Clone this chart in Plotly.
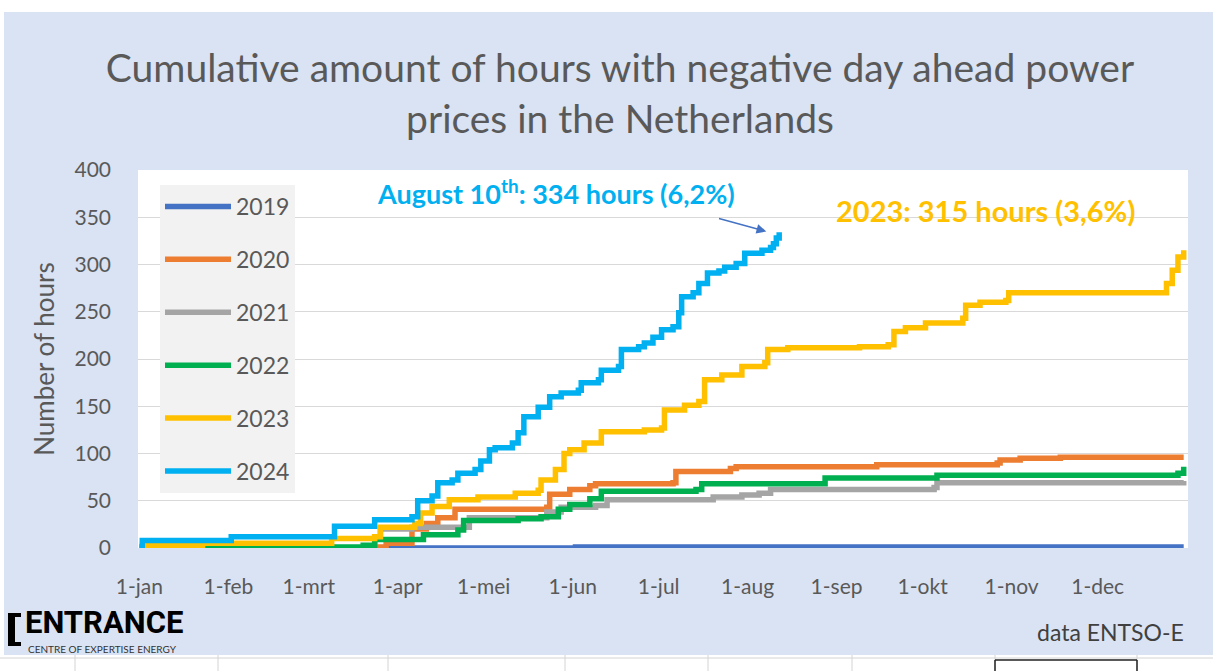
import plotly.graph_objects as go

# ---------------- data (day of year, cumulative hours) ----------------
month_ticks = [0, 31, 59, 90, 120, 151, 181, 212, 243, 273, 304, 334]
month_labels = ["1-jan", "1-feb", "1-mrt", "1-apr", "1-mei", "1-jun",
                "1-jul", "1-aug", "1-sep", "1-okt", "1-nov", "1-dec"]

days_2019 = [0, 152, 364]
vals_2019 = [0, 1, 1]

days_2020 = [0, 79, 86, 95, 100, 104, 110, 142, 143, 150, 157, 159, 186, 187, 206, 208, 257, 299, 300, 307, 321, 364]
vals_2020 = [0, 1, 5, 20, 26, 32, 41, 43, 57, 62, 66, 68, 69, 81, 84, 86, 88, 90, 93, 95, 96, 96]

days_2021 = [0, 79, 82, 84, 95, 115, 142, 147, 159, 163, 198, 200, 210, 216, 220, 277, 278, 362, 364]
vals_2021 = [0, 2, 12, 20, 22, 32, 38, 43, 45, 51, 51, 54, 56, 58, 62, 64, 69, 69, 71]

days_2022 = [0, 78, 82, 99, 111, 113, 132, 140, 146, 150, 157, 161, 194, 196, 239, 278, 362, 364]
vals_2022 = [1, 3, 9, 14, 19, 29, 31, 33, 41, 46, 52, 60, 62, 68, 74, 77, 79, 86]

days_2023 = [0, 2, 22, 67, 82, 84, 96, 98, 102, 108, 118, 131, 139, 140, 145, 148, 150, 155, 161, 176, 182,
             183, 190, 195, 197, 203, 210, 218, 219, 226, 251, 261, 263, 267, 274, 287, 288, 293, 302, 303,
             355, 358, 360, 362, 364]
vals_2023 = [1, 3, 5, 10, 12, 22, 26, 37, 44, 51, 54, 58, 61, 72, 83, 100, 104, 111, 123, 125, 127,
             146, 151, 155, 178, 183, 192, 196, 210, 212, 213, 215, 229, 233, 238, 243, 257, 260, 262, 270,
             270, 280, 294, 308, 315]

days_2024 = [0, 1, 32, 68, 82, 95, 97, 102, 104, 109, 111, 117, 119, 122, 124, 130, 132, 134, 139, 143, 147,
             153, 154, 160, 161, 167, 168, 174, 176, 179, 182, 186, 188, 189, 193, 195, 198, 202, 204, 208,
             211, 217, 220, 221, 222, 223]
vals_2024 = [3, 8, 12, 23, 30, 33, 50, 55, 69, 72, 79, 83, 92, 104, 106, 111, 122, 139, 149, 160, 164,
             167, 175, 178, 188, 192, 210, 213, 217, 223, 231, 234, 249, 266, 270, 280, 291, 293, 297, 301,
             312, 315, 318, 322, 328, 334]

series = [
    ("2019", days_2019, vals_2019, "#4472C4"),
    ("2020", days_2020, vals_2020, "#ED7D31"),
    ("2021", days_2021, vals_2021, "#A5A5A5"),
    ("2022", days_2022, vals_2022, "#00B050"),
    ("2023", days_2023, vals_2023, "#FFC000"),
    ("2024", days_2024, vals_2024, "#00B0F0"),
]

FONT = "Lato"
W, H = 1213, 671
L, R, T, B = 138, 1188, 170, 548  # plot area in pixels


def px(x):
    return (x - L) / (R - L)


def py(y):
    return (B - y) / (B - T)


fig = go.Figure()
for name, d, v, c in series:
    fig.add_trace(go.Scatter(
        x=d, y=v, name=name, mode="lines", legendgroup=name,
        line=dict(color=c, width=5.5, shape="hv"),
    ))

fig.update_layout(
    width=W, height=H,
    margin=dict(l=L, r=W - R, t=T, b=H - B, autoexpand=False),
    paper_bgcolor="#DAE3F3",
    plot_bgcolor="#FFFFFF",
    font=dict(family=FONT, color="#595959"),
    title=dict(
        text="Cumulative amount of hours with negative day ahead power<br>prices in the Netherlands",
        x=620 / W, xref="container", xanchor="center",
        y=1 - 82 / H, yref="container", yanchor="middle",
        font=dict(family=FONT, size=39, color="#595959"),
    ),
    xaxis=dict(
        range=[-0.5, 365.5], tickvals=month_ticks, ticktext=month_labels,
        showgrid=False, zeroline=False, showline=False, ticks="",
        tickfont=dict(size=21, color="#595959"), ticklabelstandoff=24,
        fixedrange=True,
    ),
    yaxis=dict(
        range=[0, 400], tickvals=[0, 50, 100, 150, 200, 250, 300, 350, 400],
        showgrid=True, gridcolor="#D9D9D9", gridwidth=1.3, zeroline=False, showline=False,
        tickfont=dict(size=21, color="#595959"), ticklabelstandoff=26,
        title=dict(text="Number of hours", font=dict(size=26, color="#595959"), standoff=12),
        fixedrange=True,
    ),
    legend=dict(
        x=px(160), y=py(185), xanchor="left", yanchor="top",
        bgcolor="#F2F2F2", borderwidth=0,
        font=dict(size=23, color="#595959"),
        tracegroupgap=20, itemwidth=66,
    ),
    showlegend=True,
)

shapes = []
# white page border around the chart area (spreadsheet)
shapes.append(dict(type="rect", xref="paper", yref="paper", x0=px(0), x1=px(W), y0=py(0), y1=py(12),
                   fillcolor="white", line=dict(width=0), layer="above"))
shapes.append(dict(type="rect", xref="paper", yref="paper", x0=px(0), x1=px(4), y0=py(0), y1=py(H),
                   fillcolor="white", line=dict(width=0), layer="above"))
shapes.append(dict(type="rect", xref="paper", yref="paper", x0=px(0), x1=px(W), y0=py(655), y1=py(H),
                   fillcolor="white", line=dict(width=0), layer="above"))
shapes.append(dict(type="line", xref="paper", yref="paper", x0=px(0), x1=px(W), y0=py(658), y1=py(658),
                   line=dict(color="#D4D4D4", width=1)))
for gx in [75, 218, 388, 565, 708, 852, 995, 1137]:
    shapes.append(dict(type="line", xref="paper", yref="paper", x0=px(gx), x1=px(gx), y0=py(655), y1=py(H),
                       line=dict(color="#D4D4D4", width=1)))
for gx in [995, 1137]:
    shapes.append(dict(type="line", xref="paper", yref="paper", x0=px(gx), x1=px(gx), y0=py(660), y1=py(H),
                       line=dict(color="#222222", width=1.5)))
shapes.append(dict(type="line", xref="paper", yref="paper", x0=px(995), x1=px(1137), y0=py(660), y1=py(660),
                   line=dict(color="#222222", width=1.5)))
# ENTRANCE logo bracket
shapes.append(dict(type="rect", xref="paper", yref="paper", x0=px(8), x1=px(15), y0=py(646), y1=py(613),
                   fillcolor="black", line=dict(width=0)))
shapes.append(dict(type="rect", xref="paper", yref="paper", x0=px(8), x1=px(21), y0=py(617), y1=py(613),
                   fillcolor="black", line=dict(width=0)))
shapes.append(dict(type="rect", xref="paper", yref="paper", x0=px(8), x1=px(21), y0=py(646), y1=py(642),
                   fillcolor="black", line=dict(width=0)))
fig.update_layout(shapes=shapes)

annotations = [
    dict(text="<b>August 10<sup>th</sup>: 334 hours (6,2%)</b>", xref="paper", yref="paper",
         x=px(556), y=py(192), xanchor="center", yanchor="middle", showarrow=False,
         font=dict(family=FONT, size=27, color="#00B0F0")),
    dict(text="", x=218.5, y=335, xref="x", yref="y", ax=201.5, ay=349, axref="x", ayref="y",
         showarrow=True, arrowhead=2, arrowsize=1.3, arrowwidth=1.5, arrowcolor="#4472C4"),
    dict(text="<b>2023: 315 hours (3,6%)</b>", xref="paper", yref="paper",
         x=px(985), y=py(210), xanchor="center", yanchor="middle", showarrow=False,
         font=dict(family=FONT, size=29, color="#FFC000")),
    dict(text="<b>ENTRANCE</b>", xref="paper", yref="paper", x=px(23), y=py(622),
         xanchor="left", yanchor="middle", showarrow=False,
         font=dict(family="Roboto", size=31, color="black")),
    dict(text="CENTRE OF EXPERTISE ENERGY", xref="paper", yref="paper", x=px(26), y=py(649),
         xanchor="left", yanchor="middle", showarrow=False,
         font=dict(family=FONT, size=10, color="#333333")),
    dict(text="data ENTSO-E", xref="paper", yref="paper", x=px(1186), y=py(632),
         xanchor="right", yanchor="middle", showarrow=False,
         font=dict(family=FONT, size=23, color="#404040")),
]
fig.update_layout(annotations=annotations)

fig.write_html("out.html", config={"displayModeBar": False},
               post_script="document.body.style.margin='0px';")
